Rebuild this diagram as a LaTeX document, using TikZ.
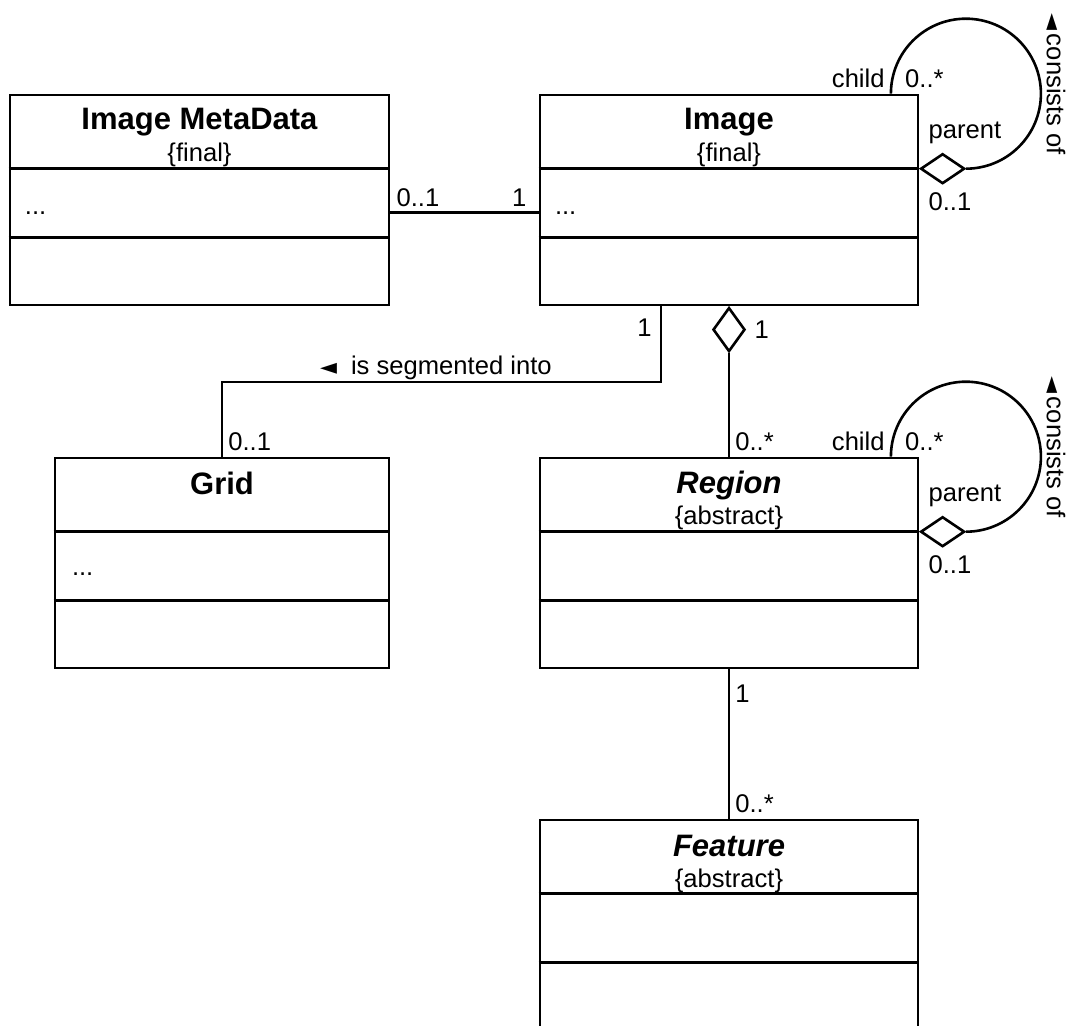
\documentclass[tikz,border=0pt]{standalone}
\usepackage{fontspec}
\setmainfont{Liberation Sans}
\newfontfamily\SymFont{DejaVu Sans}
\usetikzlibrary{calc,shapes.geometric}
\newcommand{\LblSize}{\fontsize{12.8}{15}\selectfont}
\newcommand{\TitleSize}{\fontsize{15.5}{18}\selectfont}
\newcommand{\LArrow}{{\SymFont\fontsize{11}{12}\selectfont ◄}}

\begin{document}
\begin{tikzpicture}[x=0.5pt,y=-0.5pt,line width=1.3pt,
  ClassBox/.style={draw,rectangle,inner sep=0pt,minimum height=105pt},
  NameTxt/.style={anchor=base,font=\TitleSize\bfseries},
  TagTxt/.style={anchor=base,font=\LblSize},
  AttrTxt/.style={anchor=base west,font=\LblSize,inner sep=0pt},
  MultTxt/.style={font=\LblSize,inner sep=2.5pt},
  AggDiamond/.style={draw,fill=white,diamond,inner sep=0pt,minimum width=22pt,minimum height=15pt},
  VAggDiamond/.style={draw,fill=white,diamond,inner sep=0pt,minimum width=16pt,minimum height=22pt}]
\useasboundingbox (0,0) rectangle (1070,1026);

\node[ClassBox,minimum width=189.5pt] (Meta) at (199.5,200) {};
\node[ClassBox,minimum width=189pt] (Img) at (729,200) {};
\node[ClassBox,minimum width=167pt] (Grid) at (222,563) {};
\node[ClassBox,minimum width=189pt] (Reg) at (729,563) {};
\node[ClassBox,minimum width=189pt] (Feat) at (729,925) {};

\foreach \c in {Meta,Img,Grid,Reg,Feat}{
  \draw ($(\c.north west)+(0,75)$) -- ($(\c.north east)+(0,75)$);
  \draw ($(\c.north west)+(0,144)$) -- ($(\c.north east)+(0,144)$);
}

\node[NameTxt] (MetaName) at ($(Meta.north)+(0,36)$) {Image MetaData};
\node[TagTxt] (MetaTag) at ($(Meta.north)+(0,68)$) {\{final\}};
\node[AttrTxt] (MetaAttr) at ($(Meta.north west)+(15,121)$) {...};

\node[NameTxt] (ImgName) at ($(Img.north)+(0,36)$) {Image};
\node[TagTxt] (ImgTag) at ($(Img.north)+(0,68)$) {\{final\}};
\node[AttrTxt] (ImgAttr) at ($(Img.north west)+(15,121)$) {...};

\node[NameTxt] (GridName) at ($(Grid.north)+(0,38)$) {Grid};
\node[AttrTxt] (GridAttr) at ($(Grid.north west)+(17,119)$) {...};

\node[NameTxt,font=\TitleSize\bfseries\itshape] (RegName) at ($(Reg.north)+(0,37)$) {Region};
\node[TagTxt] (RegTag) at ($(Reg.north)+(0,68)$) {\{abstract\}};

\node[NameTxt,font=\TitleSize\bfseries\itshape] (FeatName) at ($(Feat.north)+(0,38)$) {Feature};
\node[TagTxt] (FeatTag) at ($(Feat.north)+(0,69)$) {\{abstract\}};

\coordinate (MetaEnd) at ($(Meta.north east)+(0,119)$);
\draw (MetaEnd) -- (MetaEnd -| Img.west);
\node[MultTxt,anchor=south west] (MetaMult) at (MetaEnd) {0..1};
\node[MultTxt,anchor=south east] (ImgMetaMult) at ($(MetaEnd -| Img.west)+(-6,0)$) {1};

\node[AggDiamond,anchor=west] (ImgAgg) at ($(Img.north east)+(0,75)$) {};
\draw (ImgAgg.east) arc[start angle=-90,end angle=180,radius=37.5pt] coordinate (ImgLoopEnd);
\node[MultTxt,anchor=south east] (ImgChild) at (ImgLoopEnd) {child};
\node[MultTxt,anchor=south west] (ImgChildMult) at ($(ImgLoopEnd)+(8,0)$) {0..*};
\node[MultTxt,anchor=south west] (ImgParent) at ($(ImgAgg.west)+(3,-19)$) {parent};
\node[MultTxt,anchor=north west] (ImgParentMult) at ($(ImgAgg.west)+(3,18)$) {0..1};
\node[MultTxt,rotate=-90] (ImgRel) at (1056,84) {\LArrow\hspace{2pt}consists of};

\coordinate (SegBend) at (661,382);
\draw (SegBend |- Img.south) -- (SegBend) -| (Grid.north);
\node[MultTxt,anchor=south east] (ImgGridMult) at ($(SegBend |- Img.south)+(-3,37)$) {1};
\node[MultTxt,anchor=south west] (GridMult) at (Grid.north) {0..1};
\node[MultTxt,anchor=base east] (SegTxt) at ($(SegBend)+(-103,-7)$) {\LArrow\hspace{7pt}is segmented into};

\node[VAggDiamond,anchor=north] (ImgRegAgg) at (Img.south) {};
\draw (ImgRegAgg.south) -- (Reg.north);
\node[MultTxt,anchor=west] (ImgRegMult) at ($(ImgRegAgg.east)+(2,0)$) {1};
\node[MultTxt,anchor=south west] (RegMult) at (Reg.north) {0..*};

\node[AggDiamond,anchor=west] (RegAgg) at ($(Reg.north east)+(0,75)$) {};
\draw (RegAgg.east) arc[start angle=-90,end angle=180,radius=37.5pt] coordinate (RegLoopEnd);
\node[MultTxt,anchor=south east] (RegChild) at (RegLoopEnd) {child};
\node[MultTxt,anchor=south west] (RegChildMult) at ($(RegLoopEnd)+(8,0)$) {0..*};
\node[MultTxt,anchor=south west] (RegParent) at ($(RegAgg.west)+(3,-19)$) {parent};
\node[MultTxt,anchor=north west] (RegParentMult) at ($(RegAgg.west)+(3,18)$) {0..1};
\node[MultTxt,rotate=-90] (RegRel) at (1056,447) {\LArrow\hspace{2pt}consists of};

\draw (Reg.south) -- (Feat.north);
\node[MultTxt,anchor=north west] (RegFeatMult) at ($(Reg.south)+(0,9)$) {1};
\node[MultTxt,anchor=south west] (FeatMult) at (Feat.north) {0..*};

\end{tikzpicture}
\end{document}
